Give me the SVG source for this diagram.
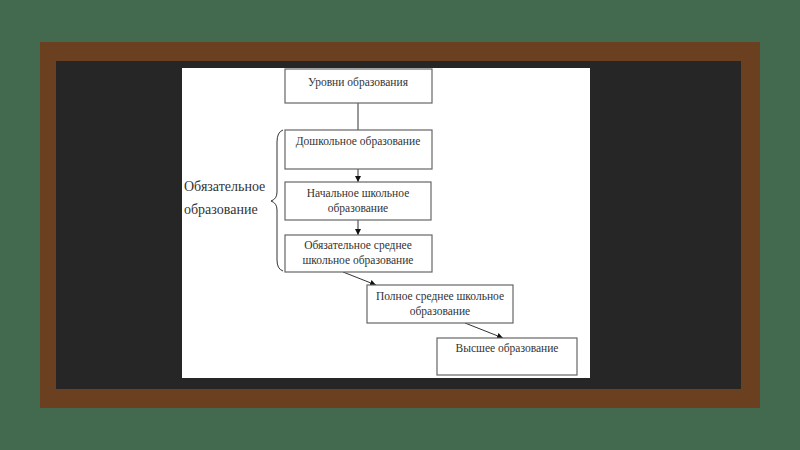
<svg xmlns="http://www.w3.org/2000/svg" width="800" height="450" viewBox="0 0 800 450">
<defs>
<marker id="ah" viewBox="0 0 10 10" refX="10" refY="5" markerWidth="6" markerHeight="6" orient="auto" markerUnits="userSpaceOnUse">
<path d="M0,0 L10,5 L0,10 z" fill="#111"/>
</marker>
<style>
.box{fill:#fff;stroke:#666;stroke-width:1.2}
.t{font-family:"Liberation Serif","Times New Roman",serif;font-size:11.5px;fill:#333;text-anchor:middle}
.lbl{font-family:"Liberation Serif","Times New Roman",serif;font-size:14px;fill:#333}
.c{stroke:#333;stroke-width:1;fill:none}
</style>
</defs>
<rect x="0" y="0" width="800" height="450" fill="#436a4f"/>
<rect x="40" y="42" width="720" height="366" fill="#6b4020"/>
<rect x="56" y="61" width="685" height="328" fill="#262626"/>
<rect x="182" y="68" width="408" height="310" fill="#fff"/>

<g id="connectors">
<line class="c" x1="358" y1="103" x2="358" y2="130"/>
<line class="c" x1="358" y1="169" x2="358" y2="182" marker-end="url(#ah)"/>
<line class="c" x1="358" y1="220" x2="358" y2="235" marker-end="url(#ah)"/>
<line class="c" x1="343" y1="272" x2="376" y2="285" marker-end="url(#ah)"/>
<line class="c" x1="465" y1="323" x2="503" y2="338" marker-end="url(#ah)"/>
</g>

<g id="brace">
<path class="c" stroke="#777" d="M283,130 Q277,132 277,142 L277,192 Q277,199 271,201 Q277,203 277,210 L277,260 Q277,269 283,271"/>
<text class="lbl" x="184" y="191">Обязательное</text>
<text class="lbl" x="184" y="214">образование</text>
</g>

<g id="n1">
<rect class="box" x="285" y="69" width="147" height="34"/>
<text class="t" x="358" y="86">Уровни образования</text>
</g>
<g id="n2">
<rect class="box" x="285" y="130" width="147" height="39"/>
<text class="t" x="358" y="145">Дошкольное образование</text>
</g>
<g id="n3">
<rect class="box" x="285" y="182" width="146" height="38"/>
<text class="t" x="358" y="197">Начальное школьное</text>
<text class="t" x="358" y="212">образование</text>
</g>
<g id="n4">
<rect class="box" x="285" y="235" width="147" height="37"/>
<text class="t" x="358" y="249">Обязательное среднее</text>
<text class="t" x="358" y="264">школьное образование</text>
</g>
<g id="n5">
<rect class="box" x="367" y="285" width="146" height="38"/>
<text class="t" x="440" y="300">Полное среднее школьное</text>
<text class="t" x="440" y="315">образование</text>
</g>
<g id="n6">
<rect class="box" x="437" y="338" width="140" height="37"/>
<text class="t" x="507" y="352">Высшее образование</text>
</g>
</svg>
